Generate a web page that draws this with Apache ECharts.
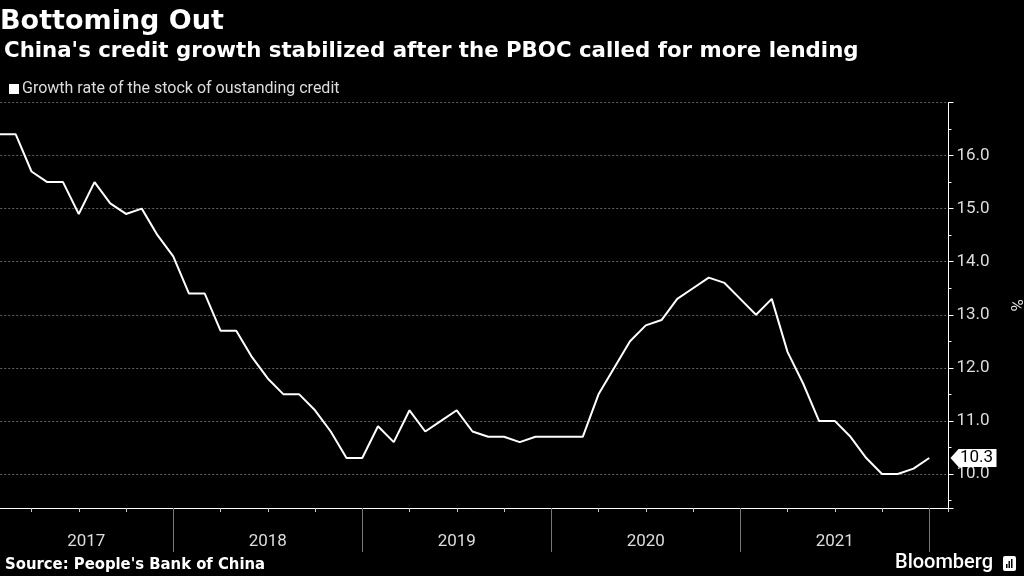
<!DOCTYPE html>
<html><head><meta charset="utf-8">
<script src="https://cdn.jsdelivr.net/npm/echarts@6/dist/echarts.min.js"></script>
<style>html,body{margin:0;padding:0;background:#000}#c{width:1024px;height:576px}</style>
</head><body><div id="c"></div>
<script>
// Monthly values, Jan 2017 .. Dec 2021 (%)
const years = ['2017','2018','2019','2020','2021'];
const values = [
  16.4,16.4,15.7,15.5,15.5,14.9,15.5,15.1,14.9,15.0,14.5,14.1,
  13.4,13.4,12.7,12.7,12.2,11.8,11.5,11.5,11.2,10.8,10.3,10.3,
  10.9,10.6,11.2,10.8,11.0,11.2,10.8,10.7,10.7,10.6,10.7,10.7,
  10.7,10.7,11.5,12.0,12.5,12.8,12.9,13.3,13.5,13.7,13.6,13.3,
  13.0,13.3,12.3,11.7,11.0,11.0,10.7,10.3,10.0,10.0,10.1,10.3
];
const yTicks = [10,11,12,13,14,15,16];
const seriesName = 'Growth rate of the stock of oustanding credit';

const points = values.map((v,i)=>[i+1, v]);
const last = points[points.length-1];
const monthPx = 15.75;
const chart = echarts.init(document.getElementById('c'));
const numFont = 'Roboto';
chart.setOption({
  backgroundColor:'#000',
  animation:false,
  title:[
    {text:'Bottoming Out', left:0, top:8, padding:0, textStyle:{color:'#fff', fontFamily:'DejaVu Sans', fontWeight:'bold', fontSize:27}},
    {text:"China's credit growth stabilized after the PBOC called for more lending", left:4, top:41, padding:0, textStyle:{color:'#fff', fontFamily:'DejaVu Sans', fontWeight:'bold', fontSize:21.3}},
    {text:"Source: People's Bank of China", left:5, top:556, padding:0, textStyle:{color:'#fff', fontFamily:'DejaVu Sans Condensed, DejaVu Sans', fontWeight:'bold', fontSize:16.5}},
    {text:'Bloomberg', left:895, top:553, padding:0, textStyle:{color:'#fff', fontFamily:'Roboto', fontWeight:500, fontSize:20}}
  ],
  graphic:[
    {type:'group', left:1003, top:556, children:[
      {type:'rect', shape:{x:0,y:0,width:13,height:15,r:2}, style:{fill:'#fff'}},
      {type:'rect', shape:{x:3,y:8,width:1.5,height:4}, style:{fill:'#000'}},
      {type:'rect', shape:{x:5.5,y:5,width:1.5,height:7}, style:{fill:'#000'}},
      {type:'rect', shape:{x:8,y:3,width:1.5,height:9}, style:{fill:'#000'}}
    ]}
  ],
  legend:{
    left:4, top:76, icon:'rect', itemWidth:10, itemHeight:10, itemGap:6,
    textStyle:{color:'#ddd', fontFamily:'Roboto', fontSize:16, padding:[0,0,0,-2]},
    data:[{name:seriesName, itemStyle:{color:'#fff'}}]
  },
  grid:[
    {left:-monthPx, right:75.5, top:102.5, bottom:68, outerBoundsMode:'none', containLabel:false},
    {left:-monthPx, right:1024-929.25, top:508, height:0, outerBoundsMode:'none', containLabel:false}
  ],
  xAxis:[
    {type:'value', gridIndex:0, min:0, max:(948.5+monthPx)/monthPx, interval:3,
     axisLine:{onZero:false, lineStyle:{color:'#fff', width:1}},
     axisTick:{show:true, length:4, lineStyle:{color:'#ccc'}},
     axisLabel:{show:false}, splitLine:{show:false}},
    {type:'category', gridIndex:1, data:years, boundaryGap:true, position:'bottom',
     axisLine:{show:false, onZero:false},
     axisTick:{show:true, length:44, lineStyle:{color:'#777'}},
     axisLabel:{color:'#ddd', fontFamily:numFont, fontSize:17, margin:25,
       formatter:(v,i)=> i===0 ? '{a|'+v+'}' : v,
       rich:{a:{padding:[0,0,0,15], fontFamily:numFont, fontSize:17, color:'#ddd'}}}}
  ],
  yAxis:[
    {type:'value', gridIndex:0, position:'right', min:10-(508-474)/53, max:17,
     minInterval:1, maxInterval:1,
     name:'%', nameLocation:'middle', nameGap:58, nameRotate:-90,
     nameTextStyle:{color:'#ddd', fontFamily:numFont, fontSize:17},
     axisLine:{show:true, onZero:false, lineStyle:{color:'#fff'}},
     axisTick:{show:true, length:5, lineStyle:{color:'#fff'}},
     minorTick:{show:true, splitNumber:2, length:3, lineStyle:{color:'#fff'}},
     axisLabel:{color:'#ddd', fontFamily:numFont, fontSize:17, margin:8,
       formatter:v=> yTicks.indexOf(Math.round(v*1000)/1000)>=0 ? v.toFixed(1) : ''},
     splitLine:{show:true, showMinLine:false, lineStyle:{color:'#666', type:[2,2], width:1}}},
    {type:'value', gridIndex:1, show:false}
  ],
  series:[
    {name:seriesName, type:'line', xAxisIndex:0, yAxisIndex:0, data:points,
     showSymbol:false, symbol:'none', lineStyle:{color:'#fff', width:2}, itemStyle:{color:'#fff'},
     clip:false,
     markPoint:{
       silent:true,
       symbol:'path://M0,9L8,0H46V18H8Z', symbolSize:[46,18], symbolKeepAspect:false,
       symbolOffset:[948.5-929.25+2+23, 0],
       itemStyle:{color:'#fff'},
       label:{show:true, position:'inside', color:'#000', fontFamily:numFont, fontSize:17, offset:[3,0],
         formatter:p=> p.value.toFixed(1)},
       data:[{coord:last, value:last[1]}]
     }}
  ]
});
</script></body></html>
